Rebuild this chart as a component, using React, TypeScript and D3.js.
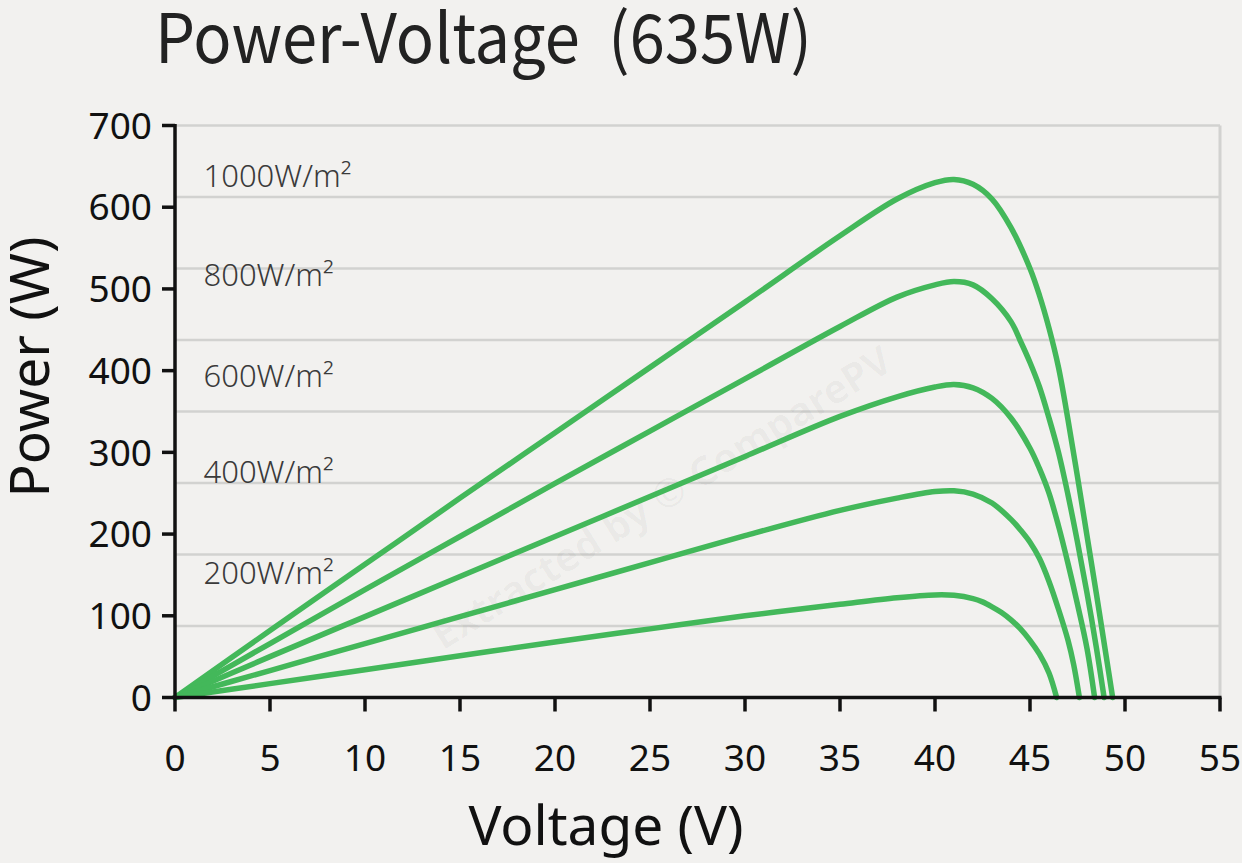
import React from "react";
import * as d3 from "d3";

// ---- data ----
const voltage1000 = [0, 5, 10, 15, 20, 25, 30, 35, 38, 40, 41, 42, 43, 44, 45, 45.5, 46, 46.5, 47, 47.5, 48, 48.5, 49, 49.35];
const power1000 = [0, 82, 163, 244, 324, 404, 484, 565, 610, 630, 634, 628, 610, 575, 525, 492, 452, 404, 340, 270, 198, 126, 52, 0];

const voltage800 = [0, 5, 10, 15, 20, 25, 30, 35, 38, 40, 41, 42, 43, 44, 44.5, 45, 45.5, 46, 46.5, 47, 47.5, 48, 48.5, 48.9];
const power800 = [0, 66, 132, 197, 262, 326, 390, 454, 490, 505, 509, 505, 488, 460, 436, 410, 380, 342, 300, 248, 190, 128, 60, 0];

const voltage600 = [0, 5, 10, 15, 20, 25, 30, 35, 38, 40, 41, 42, 43, 44, 45, 45.5, 46, 46.5, 47, 47.5, 48, 48.4];
const power600 = [0, 50, 99, 148, 197, 246, 295, 344, 368, 380, 383, 379, 366, 342, 305, 280, 250, 210, 164, 114, 60, 0];

const voltage400 = [0, 5, 10, 15, 20, 25, 30, 35, 38, 40, 41, 42, 43, 44, 44.5, 45, 45.5, 46, 46.5, 47, 47.3, 47.6];
const power400 = [0, 33, 66, 99, 132, 165, 198, 229, 244, 252, 253, 249, 238, 218, 205, 190, 170, 142, 108, 70, 40, 0];

const voltage200 = [0, 5, 10, 15, 20, 25, 30, 35, 38, 40, 41, 42, 42.5, 43, 43.5, 44, 44.5, 45, 45.5, 46, 46.4];
const power200 = [0, 17, 34, 51, 68, 84, 100, 114, 122, 125.5, 125, 121, 117, 111, 104, 95, 84, 70, 53, 30, 0];

const seriesLabels = ["1000W/m²", "800W/m²", "600W/m²", "400W/m²", "200W/m²"];
const labelPower = [625, 504, 380, 262, 139];
const labelVoltage = 1.5;

const xTicks = [0, 5, 10, 15, 20, 25, 30, 35, 40, 45, 50, 55];
const yTicks = [0, 100, 200, 300, 400, 500, 600, 700];
const gridValues = [87.5, 175, 262.5, 350, 437.5, 525, 612.5, 700];

const title = "Power-Voltage\u00a0\u00a0(635W)";
const xTitle = "Voltage (V)";
const yTitle = "Power (W)";
const watermark = "Extracted by © ComparePV";

const W = 1242;
const H = 863;
const FONT_TITLE = "'Noto Sans CJK SC', 'Noto Sans', sans-serif";
const FONT = "'Noto Sans', 'Open Sans', sans-serif";
const GREEN = "#43b85a";

export default function App() {
  const x = d3.scaleLinear().domain([0, 55]).range([175, 1220]);
  const y = d3.scaleLinear().domain([0, 700]).range([697.5, 125.5]);

  const series = [
    { v: voltage1000, p: power1000 },
    { v: voltage800, p: power800 },
    { v: voltage600, p: power600 },
    { v: voltage400, p: power400 },
    { v: voltage200, p: power200 },
  ];

  const line = d3
    .line<[number, number]>()
    .x((d) => x(d[0]))
    .y((d) => y(d[1]))
    .curve(d3.curveCatmullRom.alpha(0.5));

  const [x0, x1] = x.range();
  const [y0, y1] = y.range();

  return (
    <svg
      width={W}
      height={H}
      viewBox={`0 0 ${W} ${H}`}
      style={{ position: "absolute", left: 0, top: 0, display: "block" }}
      fontFamily={FONT}
    >
      <rect x={0} y={0} width={W} height={H} fill="#f2f1ef" />

      {/* title */}
      <text
        x={155}
        y={63}
        fontSize={68}
        fontFamily={FONT_TITLE}
        fill="#222"
        textLength={657}
        lengthAdjust="spacingAndGlyphs"
      >
        {title}
      </text>

      {/* grid */}
      {gridValues.map((g) => (
        <line key={g} x1={x0} x2={x1} y1={y(g)} y2={y(g)} stroke="#d2d2d0" strokeWidth={2.5} />
      ))}
      <line x1={x1} x2={x1} y1={y1} y2={y0} stroke="#d2d2d0" strokeWidth={3} />

      {/* watermark */}
      <text
        x={0}
        y={0}
        transform={`translate(${x(26)},${y(230)}) rotate(-32)`}
        textAnchor="middle"
        fontSize={40}
        fontWeight={700}
        fill="#000"
        fillOpacity={0.03}
      >
        {watermark}
      </text>

      {/* series labels */}
      {seriesLabels.map((s, i) => (
        <text key={s} x={x(labelVoltage)} y={y(labelPower[i])} fontSize={31} fontWeight={300} fill="#3a3a3a">
          {s}
        </text>
      ))}

      {/* curves */}
      {series.map((s, i) => (
        <path
          key={i}
          d={line(s.v.map((v, j) => [v, s.p[j]] as [number, number])) || ""}
          fill="none"
          stroke={GREEN}
          strokeWidth={5.5}
          strokeLinecap="round"
          strokeLinejoin="round"
        />
      ))}

      {/* axes */}
      <line x1={x0} x2={x0} y1={y1 - 1.5} y2={y0 + 1.5} stroke="#111" strokeWidth={3.5} />
      <line x1={x0 - 1.5} x2={x1 + 1.5} y1={y0} y2={y0} stroke="#111" strokeWidth={3.5} />
      {yTicks.map((t) => (
        <g key={t}>
          <line x1={x0 - 13} x2={x0} y1={y(t)} y2={y(t)} stroke="#111" strokeWidth={3.5} />
          <text x={152} y={y(t)} dy="0.357em" textAnchor="end" fontSize={37} fill="#111">
            {t}
          </text>
        </g>
      ))}
      {xTicks.map((t) => (
        <g key={t}>
          <line x1={x(t)} x2={x(t)} y1={y0} y2={y0 + 14} stroke="#111" strokeWidth={3.5} />
          <text x={x(t)} y={770.5} textAnchor="middle" fontSize={37} fill="#111">
            {t}
          </text>
        </g>
      ))}

      {/* axis titles */}
      <text x={606} y={845} textAnchor="middle" fontSize={55} fill="#111">
        {xTitle}
      </text>
      <text transform={`translate(49,367) rotate(-90)`} textAnchor="middle" fontSize={55} fill="#111">
        {yTitle}
      </text>
    </svg>
  );
}
